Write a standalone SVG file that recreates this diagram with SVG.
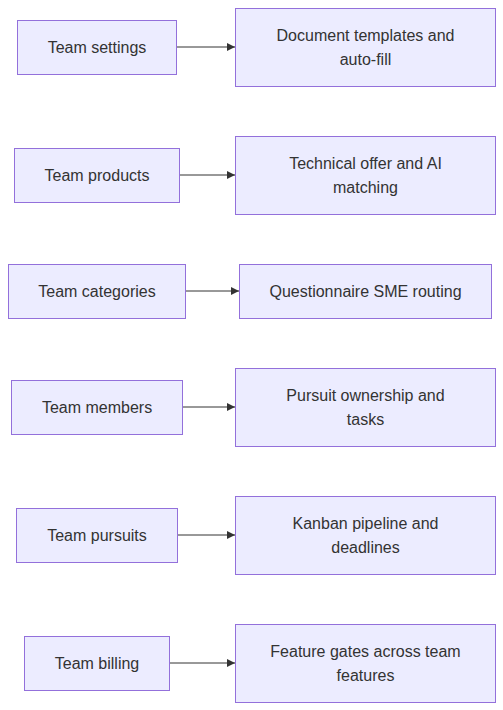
<svg xmlns="http://www.w3.org/2000/svg" width="503" height="710" viewBox="0 0 503 710">
<style>
.n{fill:#ECECFF;stroke:#9370DB;stroke-width:1}
.t{font-family:"Liberation Sans",Arial,sans-serif;font-size:16px;fill:#333;text-anchor:middle}
.e{stroke:#333;stroke-width:1;fill:none}
</style>
<defs>
<marker id="ah" viewBox="0 0 10 10" refX="10" refY="5" markerWidth="8" markerHeight="8" markerUnits="userSpaceOnUse" orient="auto">
<path d="M0,0L10,5L0,10z" fill="#333"/>
</marker>
</defs>
<rect width="503" height="710" fill="#fff"/>
<g id="connectors">
<path class="e" d="M176.5,47H235" marker-end="url(#ah)"/>
<path class="e" d="M179.5,175H235" marker-end="url(#ah)"/>
<path class="e" d="M185.5,291H239" marker-end="url(#ah)"/>
<path class="e" d="M182.5,407H235" marker-end="url(#ah)"/>
<path class="e" d="M177.5,535H235" marker-end="url(#ah)"/>
<path class="e" d="M169.5,663H235" marker-end="url(#ah)"/>
</g>
<g id="settings"><rect class="n" x="17.5" y="20.5" width="159" height="54"/><text class="t" x="97" y="52.5">Team settings</text></g>
<g id="templates"><rect class="n" x="235.5" y="8.5" width="260" height="78"/><text class="t" x="365.5" y="40.5">Document templates and</text><text class="t" x="365.5" y="64.5">auto-fill</text></g>
<g id="products"><rect class="n" x="14.5" y="148.5" width="165" height="54"/><text class="t" x="97" y="180.5">Team products</text></g>
<g id="offer"><rect class="n" x="235.5" y="136.5" width="260" height="78"/><text class="t" x="365.5" y="168.5">Technical offer and AI</text><text class="t" x="365.5" y="192.5">matching</text></g>
<g id="categories"><rect class="n" x="8.5" y="264.5" width="177" height="54"/><text class="t" x="97" y="296.5">Team categories</text></g>
<g id="sme"><rect class="n" x="239.5" y="264.5" width="252" height="54"/><text class="t" x="365.5" y="296.5">Questionnaire SME routing</text></g>
<g id="members"><rect class="n" x="11.5" y="380.5" width="171" height="54"/><text class="t" x="97" y="412.5">Team members</text></g>
<g id="ownership"><rect class="n" x="235.5" y="368.5" width="260" height="78"/><text class="t" x="365.5" y="400.5">Pursuit ownership and</text><text class="t" x="365.5" y="424.5">tasks</text></g>
<g id="pursuits"><rect class="n" x="16.5" y="508.5" width="161" height="54"/><text class="t" x="97" y="540.5">Team pursuits</text></g>
<g id="kanban"><rect class="n" x="235.5" y="496.5" width="260" height="78"/><text class="t" x="365.5" y="528.5">Kanban pipeline and</text><text class="t" x="365.5" y="552.5">deadlines</text></g>
<g id="billing"><rect class="n" x="24.5" y="636.5" width="145" height="54"/><text class="t" x="97" y="668.5">Team billing</text></g>
<g id="gates"><rect class="n" x="235.5" y="624.5" width="260" height="78"/><text class="t" x="365.5" y="656.5">Feature gates across team</text><text class="t" x="365.5" y="680.5">features</text></g>
</svg>
